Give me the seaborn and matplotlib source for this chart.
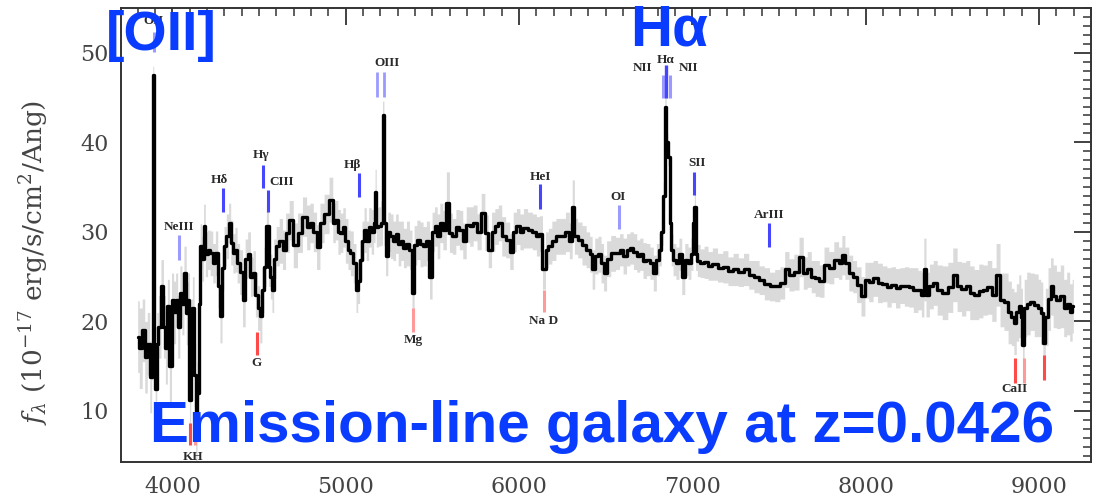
import matplotlib
matplotlib.use("Agg")
import numpy as np
import matplotlib.pyplot as plt
from matplotlib.ticker import MultipleLocator
import seaborn as sns

# ---------------- data ----------------
wave = [
    3799, 3818, 3833, 3847, 3862, 3876, 3884, 3889, 3895, 3905,
    3914, 3924, 3943, 3953, 3965, 3976, 3988, 4001, 4012, 4024,
    4036, 4049, 4060, 4072, 4087, 4095, 4101, 4110, 4120, 4130,
    4138, 4146, 4155, 4164, 4175, 4184, 4195, 4210, 4225, 4240,
    4255, 4268, 4280, 4292, 4303, 4318, 4330, 4342, 4355, 4366,
    4380, 4395, 4414, 4425, 4443, 4457, 4472, 4485, 4497, 4510,
    4522, 4534, 4549, 4560, 4570, 4578, 4590, 4607, 4625, 4645,
    4660,
    4687, 4707, 4736, 4764, 4784, 4803, 4822, 4841, 4861, 4889,
    4918, 4932, 4947, 4962, 4976, 4990, 5005, 5020, 5034, 5053,
    5065, 5072, 5087, 5100, 5111, 5125, 5139, 5155, 5166, 5172,
    5180, 5195, 5208, 5216, 5224, 5235, 5250, 5265, 5280, 5295,
    5310, 5325, 5340, 5360, 5375, 5389, 5400, 5420, 5437, 5455,
    5475, 5491, 5505, 5520, 5535, 5550, 5570, 5591, 5605,
    5625, 5645, 5665, 5685, 5705, 5725, 5745, 5770, 5793, 5812,
    5832, 5850, 5870, 5890, 5910, 5935, 5957, 5975, 5995, 6015,
    6035, 6063, 6090, 6110, 6125, 6145, 6160, 6178, 6200, 6225,
    6255, 6280, 6300, 6313, 6325, 6351, 6375, 6399, 6415, 6428,
    6445, 6466, 6480, 6495, 6515, 6543,
    6570, 6590, 6610, 6630, 6650, 6670, 6688, 6705, 6725, 6745,
    6765, 6784, 6800, 6815, 6827, 6836, 6845, 6853, 6864, 6873,
    6882, 6895, 6915, 6930, 6947, 6965, 6985, 6998, 7008, 7014,
    7022, 7035, 7055, 7080, 7100, 7130, 7160, 7190, 7220, 7250,
    7280, 7310, 7340, 7370, 7400, 7430, 7460, 7490,
    7520, 7545, 7570, 7601, 7630, 7650, 7675, 7697, 7720, 7745,
    7774, 7800, 7832, 7855, 7870, 7890, 7915, 7935, 7960, 7986,
    8005, 8030, 8055, 8082, 8110, 8135, 8159, 8185, 8210, 8236,
    8260, 8290, 8313, 8330, 8341, 8355, 8380, 8400,
    8425, 8458, 8490, 8515, 8540, 8565, 8590, 8611, 8640, 8665,
    8688, 8715, 8740, 8765, 8785, 8810, 8833, 8848, 8862, 8876,
    8890, 8900, 8909, 8920, 8938, 8960, 8985, 9005, 9015, 9029,
    9044, 9060, 9073, 9090, 9111, 9135, 9150, 9169, 9185, 9198,
]

flux = [
    18.3, 17.0, 19.0, 16.0, 17.5, 13.8, 17.0, 47.5, 16.0, 12.5,
    17.5, 19.4, 23.9, 19.4, 17.0, 21.7, 15.0, 22.4, 21.0, 22.4,
    19.4, 23.2, 22.0, 25.4, 20.9, 22.4, 11.2, 19.5, 21.5, 14.0,
    7.0, 12.0, 22.0, 28.4, 27.0, 30.6, 27.5, 28.0, 27.6, 26.5,
    27.6, 24.0, 20.6, 26.0, 28.4, 29.5, 31.0, 28.8, 27.6, 28.0,
    26.5, 25.5, 22.4, 27.0, 27.5, 25.0, 25.4, 23.0, 21.5, 20.6,
    23.5, 26.1, 30.6, 26.1, 25.0, 23.5, 27.0, 28.4, 29.0, 28.0,
    29.9,
    31.3, 28.5, 29.9, 31.7, 30.5, 31.0, 30.0, 28.3, 31.0, 32.0,
    33.6, 31.0, 31.3, 30.0, 29.9, 30.5, 29.0, 28.0, 27.6, 26.5,
    23.5, 24.5, 26.9, 29.0, 30.2, 29.0, 30.5, 30.0, 31.0, 34.5,
    30.5, 30.6, 31.0, 43.1, 31.0, 27.3, 30.0, 29.5, 29.0, 29.8,
    28.7, 29.0, 28.2, 28.7, 28.0, 23.2, 28.5, 29.1, 28.6, 28.4,
    29.0, 25.0, 30.0, 30.6, 29.5, 31.0, 30.2, 33.2, 29.9,
    29.5, 30.5, 30.2, 29.0, 30.8, 30.6, 31.0, 30.0, 32.1, 29.9,
    28.0, 30.0, 30.6, 31.0, 29.5, 29.1, 27.8, 30.0, 30.6, 30.0,
    30.4, 30.2, 30.0, 29.5, 29.8, 25.8, 28.0, 28.4, 29.0, 29.5,
    29.5, 30.0, 29.0, 32.8, 29.5, 29.1, 28.5, 28.0, 27.5, 25.8,
    27.3, 27.5, 26.5, 25.4, 27.0, 27.6,
    27.6, 28.0, 27.3, 28.0, 28.2, 27.8, 27.3, 27.5, 26.8, 26.9,
    26.5, 25.4, 26.9, 28.0, 30.0, 34.0, 44.0, 40.0, 38.4, 31.0,
    28.0, 26.9, 26.5, 27.5, 25.0, 26.9, 26.5, 27.5, 31.0, 32.8,
    27.5, 26.8, 26.5, 26.6, 26.2, 26.4, 26.0, 26.1, 25.6, 25.8,
    25.5, 25.8, 25.2, 25.0, 24.6, 24.2, 23.9, 24.0,
    24.3, 25.8, 25.2, 25.5, 27.2, 25.4, 25.8, 25.0, 24.8, 24.5,
    26.3, 26.0, 26.9, 26.5, 27.4, 26.5, 25.4, 25.0, 24.1, 22.8,
    24.6, 24.4, 24.8, 24.3, 24.2, 23.8, 24.1, 23.7, 24.0, 23.9,
    23.8, 23.5, 23.5, 23.0, 25.8, 23.0, 23.9, 24.3,
    23.5, 23.2, 23.8, 25.2, 23.9, 23.6, 24.0, 23.2, 23.0, 23.4,
    23.5, 23.8, 23.0, 25.2, 22.4, 22.2, 21.0, 20.5, 19.8, 21.0,
    21.7, 20.5, 17.4, 21.5, 22.0, 22.2, 21.8, 21.5, 20.9, 17.6,
    20.5, 22.5, 23.9, 22.8, 22.4, 22.8, 21.5, 22.0, 21.0, 21.7,
]

err = [
    4.0, 4.5, 3.5, 4.0, 3.5, 4.0, 3.5, 1.0, 3.5, 4.0,
    3.5, 3.5, 3.0, 3.5, 4.0, 3.0, 4.0, 3.0, 3.5, 3.0,
    3.5, 3.0, 3.5, 3.0, 3.5, 3.0, 3.5, 3.0, 3.5, 3.5,
    3.0, 3.5, 3.0, 2.5, 2.5, 2.5, 2.5, 2.2, 2.5, 2.2,
    2.5, 2.5, 3.0, 2.5, 2.2, 2.5, 2.2, 2.5, 2.2, 2.5,
    2.2, 2.5, 3.0, 2.2, 2.5, 2.2, 2.5, 2.5, 2.5, 3.0,
    2.5, 2.2, 2.5, 2.2, 2.5, 2.5, 2.2, 2.2, 2.5, 2.2,
    2.2,
    2.2, 2.5, 2.2, 2.2, 2.5, 2.2, 2.2, 2.5, 2.2, 2.2,
    2.5, 2.2, 2.2, 2.5, 2.2, 2.2, 2.5, 2.2, 2.5, 2.2,
    2.5, 2.5, 2.2, 2.2, 2.5, 2.2, 2.2, 2.5, 2.2, 2.5,
    2.2, 2.2, 2.5, 1.5, 2.5, 2.2, 2.2, 2.5, 2.2, 2.2,
    2.5, 2.2, 2.2, 2.5, 2.2, 2.5, 2.2, 2.2, 2.5, 2.2,
    2.2, 2.5, 2.2, 2.2, 2.5, 2.2, 2.2, 3.5, 2.2,
    2.0, 2.0, 2.2, 2.0, 2.0, 2.2, 2.0, 2.0, 2.2, 2.0,
    2.0, 2.2, 2.0, 2.0, 2.2, 2.0, 2.0, 2.2, 2.0, 2.0,
    2.2, 2.0, 2.0, 2.2, 2.0, 2.2, 2.0, 2.0, 2.2, 2.0,
    2.0, 2.2, 2.0, 3.0, 2.0, 2.0, 2.2, 2.0, 2.0, 2.2,
    2.0, 2.0, 2.2, 2.0, 2.0, 2.0,
    1.8, 1.8, 2.0, 1.8, 1.8, 2.0, 1.8, 1.8, 2.0, 1.8,
    1.8, 2.0, 1.8, 1.8, 1.5, 1.5, 1.0, 1.0, 1.0, 1.5,
    1.8, 1.8, 1.8, 1.8, 2.0, 1.8, 1.8, 1.8, 1.5, 1.5,
    1.8, 1.8, 1.6, 1.8, 1.6, 1.8, 1.6, 1.8, 1.6, 1.8,
    1.6, 1.8, 1.6, 1.8, 1.6, 1.8, 1.6, 1.8,
    1.8, 2.0, 1.8, 2.0, 2.2, 1.8, 2.0, 1.8, 2.0, 1.8,
    2.0, 1.8, 2.0, 1.8, 2.2, 1.8, 2.0, 1.8, 2.0, 2.2,
    2.0, 2.2, 2.0, 2.2, 2.0, 2.2, 2.0, 2.2, 2.0, 2.2,
    2.2, 2.5, 2.2, 2.5, 3.5, 2.5, 2.5, 2.5,
    2.8, 3.0, 2.8, 3.0, 2.8, 3.0, 2.8, 3.0, 2.8, 3.0,
    2.8, 3.0, 3.0, 3.5, 3.0, 3.2, 3.5, 3.2, 3.5, 3.2,
    3.5, 3.2, 3.5, 3.2, 3.5, 3.2, 3.5, 3.2, 3.5, 3.5,
    3.2, 3.5, 3.2, 3.5, 3.2, 3.5, 3.2, 3.5, 3.2, 3.0,
]

# emission / absorption line identifications (observed wavelength)
emission_names = ["OII", "NeIII", "Hδ", "Hγ", "CIII", "Hβ", "OIII", "OIII",
                  "HeI", "OI", "NII", "Hα", "NII", "SII", "ArIII"]
emission_waves = [3893, 4038, 4292, 4523, 4552, 5077, 5181, 5222,
                  6123, 6579, 6828, 6845, 6868, 7007, 7440]
absorption_names = ["K", "H", "G", "Mg", "Na D", "CaII", "CaII", "CaII"]
absorption_waves = [4101, 4130, 4488, 5389, 6146, 8861, 8913, 9028]

x_ticks = [4000, 5000, 6000, 7000, 8000, 9000]
y_ticks = [10, 20, 30, 40, 50]

title_lines = ["[OII]", "Hα", "Emission-line galaxy at z=0.0426"]

# ---------------- styling / layout ----------------
sns.set_theme(style="white")
plt.rcParams["font.family"] = ["DejaVu Serif"]
plt.rcParams["mathtext.fontset"] = "dejavuserif"

W, H = 1094, 496
fig = plt.figure(figsize=(W / 100, H / 100), dpi=100)
fig.patch.set_facecolor("white")
ax = fig.add_axes([121 / W, 1 - 462 / H, (1091 - 121) / W, (462 - 8) / H])
ax.set_facecolor("white")

w = np.array(wave, float)
f = np.array(flux, float)
e = np.array(err, float)
assert len(w) == len(f) == len(e)

ax.fill_between(w, f - e, f + e, step="mid", color="#dadada", lw=0, zorder=1)
sns.lineplot(x=w, y=f, ax=ax, color="black", lw=2.4, drawstyle="steps-mid",
             estimator=None, sort=False, zorder=2, legend=False)

# marker geometry (y extents / label offsets, in data units)
BLUE = "#4646ff"
LBLUE = "#9a9aff"
RED = "#ff4a4a"
LRED = "#ff9a9a"
emis_style = {
    "OII":   (50.1, 52.3, LBLUE, 0, 53.6),
    "NeIII": (26.9, 29.7, LBLUE, 0, 30.5),
    "Hδ":    (32.2, 34.9, BLUE, -20, 35.8),
    "Hγ":    (34.9, 37.5, BLUE, -15, 38.6),
    "CIII":  (32.2, 34.7, BLUE, 80, 35.6),
    "Hβ":    (33.9, 36.6, BLUE, -40, 37.5),
    "HeI":   (32.5, 35.3, BLUE, 0, 36.1),
    "OI":    (30.3, 33.0, LBLUE, -10, 33.9),
    "SII":   (34.1, 36.7, BLUE, 17, 37.7),
    "ArIII": (28.3, 31.0, BLUE, 0, 31.9),
}
lab_kw = dict(fontsize=9.5, color="#2a2a2a", ha="center", va="center",
              family="Liberation Serif", fontweight="bold", zorder=4)
for name, wl in zip(emission_names, emission_waves):
    if name in emis_style:
        y0, y1, c, dx, ly = emis_style[name]
        ax.plot([wl, wl], [y0, y1], color=c, lw=2.2, solid_capstyle="butt", zorder=3)
        ax.text(wl + dx, ly, name, **lab_kw)
    elif name == "OIII":
        ax.plot([wl, wl], [45.1, 47.8], color=LBLUE, lw=2.0, solid_capstyle="butt", zorder=3)
    elif name == "Hα":
        ax.plot([wl, wl], [45.0, 48.6], color=BLUE, lw=2.4, solid_capstyle="butt", zorder=3)
        ax.text(wl, 49.2, name, **lab_kw)
    elif name == "NII":
        ax.plot([wl, wl], [45.0, 47.5], color=LBLUE, lw=2.2, solid_capstyle="butt", zorder=3)
ax.text(5239, 48.9, "OIII", **lab_kw)
ax.text(6712, 48.3, "NII", **lab_kw)
ax.text(6980, 48.3, "NII", **lab_kw)

abs_style = {
    "K": (6.2, 8.7, RED), "H": (6.2, 8.7, LRED), "G": (16.3, 18.8, RED),
    "Mg": (18.8, 21.5, LRED), "Na D": (21.0, 23.5, LRED),
}
ca_y = [(13.1, 15.9, RED), (13.1, 15.9, LRED), (13.5, 16.3, RED)]
ci = 0
for name, wl in zip(absorption_names, absorption_waves):
    if name == "CaII":
        y0, y1, c = ca_y[ci]
        ci += 1
    else:
        y0, y1, c = abs_style[name]
    ax.plot([wl, wl], [y0, y1], color=c, lw=2.2, solid_capstyle="butt", zorder=3)
ax.text(4118, 4.85, "KH", **lab_kw)
ax.text(4482, 15.3, "G", **lab_kw)
ax.text(5389, 17.9, "Mg", **lab_kw)
ax.text(6140, 20.0, "Na D", **lab_kw)
ax.text(8858, 12.4, "CaII", **lab_kw)

# axes
ax.set_xlim(3703, 9300)
ax.set_ylim(4.3, 55.0)
ax.set_xticks(x_ticks)
ax.set_yticks(y_ticks)
ax.xaxis.set_minor_locator(MultipleLocator(100))
ax.yaxis.set_minor_locator(MultipleLocator(1))
ax.tick_params(which="both", direction="in", top=True, right=True,
               colors="#333333", labelcolor="#444444")
ax.tick_params(which="major", length=12, width=1.3, labelsize=16)
ax.tick_params(which="minor", length=6, width=1.1)
ax.tick_params(axis="y", pad=9)
ax.tick_params(axis="x", pad=10)
for s in ax.spines.values():
    s.set_color("#333333")
    s.set_linewidth(1.4)
ax.set_xlabel("")
ax.set_ylabel("")

fig.text(34 / W, 1 - 262 / H, r"$f_\lambda$ (10$^{-17}$ erg/s/cm$^2$/Ang)",
         rotation=90, ha="center", va="center", fontsize=19, color="#444444")

# big annotations
TXT = "#0a3cff"
big = dict(family="Liberation Sans", fontweight="bold", color=TXT,
           ha="left", va="baseline", zorder=10)
fig.text(106 / W, 1 - 50 / H, title_lines[0], fontsize=40, **big)
fig.text(630 / W, 1 - 46 / H, title_lines[1], fontsize=42, **big)
fig.text(150 / W, 1 - 442 / H, title_lines[2], fontsize=42, **big)

fig.savefig("out.png", dpi=100, facecolor="white")
